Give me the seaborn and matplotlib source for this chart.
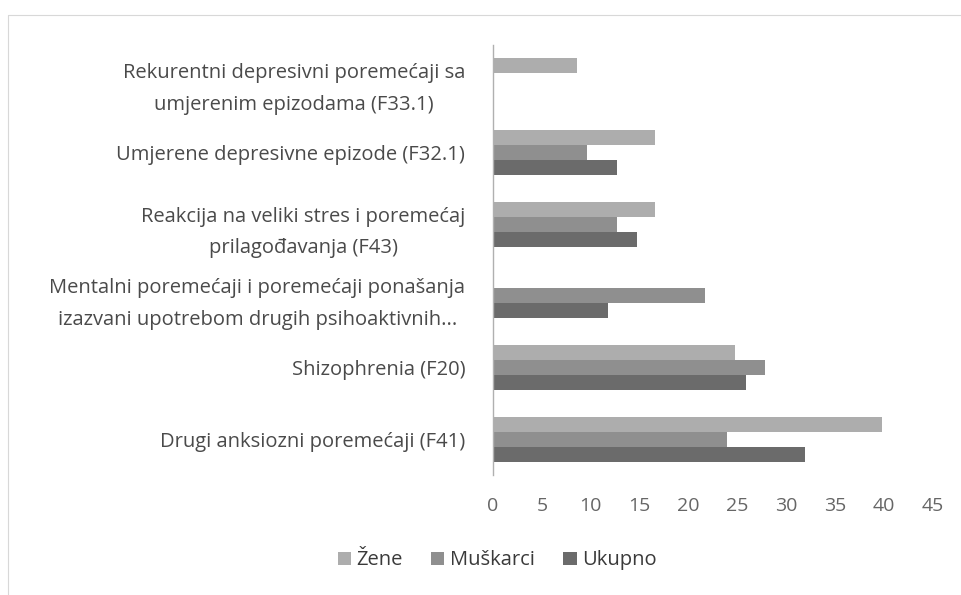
import numpy as np
import pandas as pd
import matplotlib
matplotlib.use('Agg')
import matplotlib.pyplot as plt
import seaborn as sns
from matplotlib.lines import Line2D
from matplotlib.patches import Patch

# Podaci očitani sa grafika
categories = [
    'Rekurentni depresivni poremećaji sa\numjerenim epizodama (F33.1)',
    'Umjerene depresivne epizode (F32.1)',
    'Reakcija na veliki stres i poremećaj\nprilagođavanja (F43)',
    'Mentalni poremećaji i poremećaji ponašanja\nizazvani upotrebom drugih psihoaktivnih...',
    'Shizophrenia (F20)',
    'Drugi anksiozni poremećaji (F41)',
]
zene = [8.6, 16.6, 16.6, np.nan, 24.7, 39.8]
muskarci = [np.nan, 9.6, 12.7, 21.7, 27.8, 23.9]
ukupno = [np.nan, 12.7, 14.7, 11.8, 25.9, 31.9]
series_names = ['Žene', 'Muškarci', 'Ukupno']
x_ticks = [0, 5, 10, 15, 20, 25, 30, 35, 40, 45]

colors = ['#adadad', '#8f8f8f', '#6b6b6b']

# Format dugog oblika za seaborn
df = pd.DataFrame({'Dijagnoza': categories, 'Žene': zene,
                   'Muškarci': muskarci, 'Ukupno': ukupno})
long_df = df.melt(id_vars='Dijagnoza', var_name='Spol', value_name='Vrijednost')

sns.set_style('white')
plt.rcParams['font.family'] = ['Open Sans', 'DejaVu Sans']

fig = plt.figure(figsize=(9.62, 5.95), dpi=100)
ax = fig.add_axes([0.5125, 0.2017, 0.4575, 0.7227])

sns.barplot(data=long_df, y='Dijagnoza', x='Vrijednost', hue='Spol',
            order=categories, hue_order=series_names, palette=colors,
            orient='h', errorbar=None, width=0.63, saturation=1,
            linewidth=0, ax=ax)

ax.set_xlim(0, 45)
ax.set_xticks(x_ticks)
ax.set_xlabel('')
ax.set_ylabel('')
for s in ['top', 'right', 'bottom']:
    ax.spines[s].set_visible(False)
ax.spines['left'].set_color('#b0b0b0')
ax.spines['left'].set_linewidth(1.0)

ax.tick_params(axis='x', length=0, pad=16, labelsize=14, labelcolor='#666666')
ax.tick_params(axis='y', length=0, pad=20, labelsize=14.5, labelcolor='#4a4a4a')
for lbl in ax.get_yticklabels():
    lbl.set_multialignment('center')
    lbl.set_linespacing(1.75)

# Legenda ispod grafika
ax.get_legend().remove()
handles = [Patch(facecolor=c, edgecolor='none') for c in colors]
fig.legend(handles, series_names, loc='center', bbox_to_anchor=(0.517, 0.058),
           ncol=3, frameon=False, fontsize=14.5, handlelength=0.65,
           handleheight=0.65, handletextpad=0.3, columnspacing=1.4,
           labelcolor='#3a3a3a')

# Okvir područja grafika (blijeda linija)
fig.add_artist(Line2D([8 / 962, 1.0], [1 - 15 / 595, 1 - 15 / 595],
                      color='#d8d8d8', linewidth=0.8, transform=fig.transFigure))
fig.add_artist(Line2D([8 / 962, 8 / 962], [0.0, 1 - 15 / 595],
                      color='#d8d8d8', linewidth=0.8, transform=fig.transFigure))

fig.savefig('out.png', dpi=100, facecolor='white')
